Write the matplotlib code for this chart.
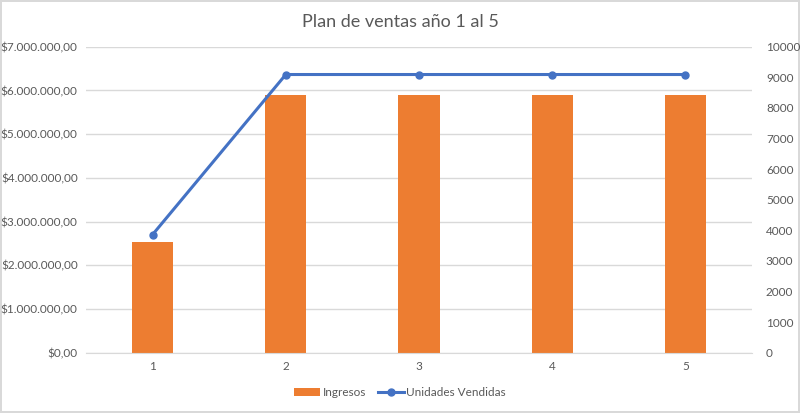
import numpy as np
import matplotlib.pyplot as plt
from matplotlib.ticker import FuncFormatter

plt.rcParams["font.family"] = ["Lato", "DejaVu Sans"]

# datos
anios = ["1", "2", "3", "4", "5"]
ingresos = [2530000, 5900000, 5900000, 5900000, 5900000]
unidades = [3860, 9090, 9090, 9090, 9090]


def formato_pesos(v, pos):
    s = f"{v:,.2f}"
    s = s.replace(",", "X").replace(".", ",").replace("X", ".")
    return "$" + s


fig = plt.figure(figsize=(8, 4.13), dpi=100)
fig.patch.set_edgecolor("#D9D9D9")
fig.patch.set_linewidth(1.5)
ax = fig.add_axes([0.1075, 0.146, 0.8325, 0.741])
ax2 = ax.twinx()

x = np.arange(len(anios))
barras = ax.bar(x, ingresos, width=0.31, color="#ED7D31", label="Ingresos", zorder=2)
linea, = ax2.plot(x, unidades, color="#4472C4", lw=2.2, marker="o", ms=5,
                  label="Unidades Vendidas", zorder=3)

ax.set_xlim(-0.5, 4.5)
ax.set_ylim(0, 7000000)
ax.set_yticks(np.arange(0, 7000001, 1000000))
ax.yaxis.set_major_formatter(FuncFormatter(formato_pesos))
ax2.set_ylim(0, 10000)
ax2.set_yticks(np.arange(0, 10001, 1000))
ax.set_xticks(x)
ax.set_xticklabels(anios)

ax.grid(axis="y", color="#D9D9D9", lw=1, zorder=0)
ax.set_axisbelow(True)
for a in (ax, ax2):
    for s in a.spines.values():
        s.set_visible(False)
    a.tick_params(length=0, labelsize=8.5, colors="#595959")
ax.spines["bottom"].set_visible(True)
ax.spines["bottom"].set_color("#D9D9D9")
ax.tick_params(axis="y", pad=6)
ax2.tick_params(axis="y", pad=10)
ax.tick_params(axis="x", pad=6)

ax2.set_zorder(ax.get_zorder() + 1)
ax2.patch.set_visible(False)

fig.suptitle("Plan de ventas año 1 al 5", y=0.965, fontsize=13, color="#595959")
fig.legend([barras, linea], ["Ingresos", "Unidades Vendidas"], loc="lower center",
           bbox_to_anchor=(0.5, 0.01), ncol=2, frameon=False, fontsize=8.5,
           labelcolor="#595959", handlelength=2.2, handletextpad=0.2,
           columnspacing=1.0)

fig.savefig("out.png", dpi=100)
